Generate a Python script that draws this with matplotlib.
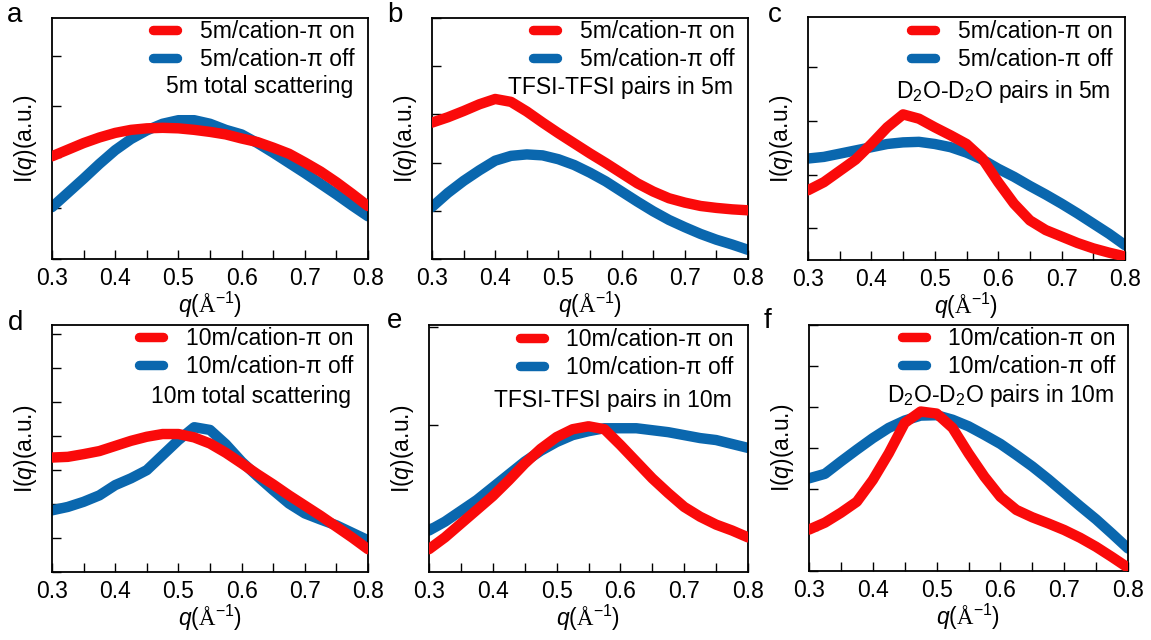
import matplotlib
matplotlib.use("Agg")
import matplotlib.pyplot as plt
from matplotlib.ticker import MultipleLocator, FixedLocator, NullFormatter

plt.rcParams["font.family"] = ["Liberation Sans", "DejaVu Sans"]
plt.rcParams["mathtext.fontset"] = "custom"
plt.rcParams["mathtext.rm"] = "Liberation Serif"
plt.rcParams["mathtext.it"] = "Liberation Sans:italic"
plt.rcParams["mathtext.sf"] = "Liberation Sans"
plt.rcParams["mathtext.default"] = "regular"

# scattering vector q (1/Angstrom)
q = [0.300, 0.325, 0.350, 0.375, 0.400, 0.425, 0.450, 0.475, 0.500, 0.525, 0.550,
     0.575, 0.600, 0.625, 0.650, 0.675, 0.700, 0.725, 0.750, 0.775, 0.800]

# (a) 5m total scattering
a_on = [2.02, 2.15, 2.28, 2.39, 2.48, 2.54, 2.57, 2.58, 2.57, 2.54, 2.50,
        2.45, 2.37, 2.30, 2.19, 2.07, 1.90, 1.72, 1.51, 1.28, 1.04]
a_off = [1.02, 1.30, 1.58, 1.87, 2.14, 2.36, 2.53, 2.66, 2.73, 2.73, 2.66,
         2.54, 2.45, 2.28, 2.09, 1.89, 1.69, 1.48, 1.27, 1.05, 0.84]

# (b) TFSI-TFSI pairs in 5m
b_on = [2.83, 2.94, 3.07, 3.21, 3.32, 3.26, 3.06, 2.83, 2.61, 2.40, 2.19,
        1.99, 1.78, 1.57, 1.40, 1.26, 1.17, 1.10, 1.06, 1.03, 1.01]
b_off = [1.08, 1.37, 1.62, 1.84, 2.04, 2.14, 2.17, 2.15, 2.07, 1.95, 1.79,
         1.61, 1.40, 1.19, 0.99, 0.81, 0.66, 0.52, 0.40, 0.30, 0.19]

# (c) D2O-D2O pairs in 5m
c_on = [1.71, 1.86, 2.07, 2.28, 2.57, 2.88, 3.12, 3.04, 2.88, 2.73, 2.57,
        2.30, 1.86, 1.46, 1.15, 0.97, 0.85, 0.73, 0.63, 0.55, 0.48]
c_off = [2.30, 2.33, 2.39, 2.45, 2.51, 2.57, 2.60, 2.61, 2.57, 2.51, 2.41,
         2.28, 2.11, 1.96, 1.79, 1.63, 1.46, 1.28, 1.09, 0.90, 0.69]

# (d) 10m total scattering
d_on = [3.36, 3.38, 3.46, 3.55, 3.70, 3.85, 3.97, 4.05, 4.05, 3.95, 3.77,
        3.50, 3.19, 2.87, 2.57, 2.25, 1.95, 1.65, 1.33, 1.01, 0.67]
d_off = [1.81, 1.91, 2.06, 2.25, 2.55, 2.75, 2.99, 3.43, 3.87, 4.25, 4.17,
         3.75, 3.24, 2.81, 2.40, 2.01, 1.72, 1.54, 1.37, 1.15, 0.93]

# (e) TFSI-TFSI pairs in 10m
e_on = [0.74, 0.86, 1.00, 1.14, 1.28, 1.44, 1.61, 1.76, 1.88, 1.96, 1.99,
        1.96, 1.80, 1.63, 1.46, 1.31, 1.17, 1.07, 0.99, 0.93, 0.86]
e_off = [0.93, 1.02, 1.13, 1.24, 1.37, 1.50, 1.63, 1.74, 1.83, 1.90, 1.94,
         1.97, 1.97, 1.97, 1.95, 1.93, 1.90, 1.87, 1.85, 1.81, 1.77]

# (f) D2O-D2O pairs in 10m
f_on = [1.01, 1.18, 1.42, 1.69, 2.22, 2.87, 3.61, 3.89, 3.84, 3.49, 2.87,
        2.30, 1.81, 1.49, 1.31, 1.16, 1.00, 0.81, 0.59, 0.34, 0.08]
f_off = [2.26, 2.37, 2.67, 2.96, 3.24, 3.49, 3.67, 3.79, 3.80, 3.69, 3.53,
         3.32, 3.10, 2.83, 2.55, 2.24, 1.91, 1.58, 1.26, 0.91, 0.55]

letters = ["a", "b", "c", "d", "e", "f"]
on_labels = ["5m/cation-π on"] * 3 + ["10m/cation-π on"] * 3
off_labels = ["5m/cation-π off"] * 3 + ["10m/cation-π off"] * 3
subtitles = ["5m total scattering", "TFSI-TFSI pairs in 5m",
             r"D$_2$O-D$_2$O pairs in 5m",
             "10m total scattering", "TFSI-TFSI pairs in 10m",
             r"D$_2$O-D$_2$O pairs in 10m"]
series_on = [a_on, b_on, c_on, d_on, e_on, f_on]
series_off = [a_off, b_off, c_off, d_off, e_off, f_off]
ylims = [(0, 4.74), (0, 5.0), (0.414, 4.93), (0, 7.25), (0.508, 3.02), (0, 6.0)]

W, H = 1151, 640
# axes boxes in pixels: left, top, right, bottom
boxes = [(52, 18, 368, 259), (432, 18, 748, 259), (808, 17, 1125, 260),
         (52, 325, 368, 572), (429, 325, 748, 572), (809, 325, 1128, 571)]
letter_pos = [(7, 22), (387, 22), (768, 22), (8, 330), (387, 328), (764, 328)]
legend_right = [355, 735, 1113, 353, 734, 1116]
legend_top = [20, 20, 20, 327, 328, 327]
sub_base = [93, 94, 98, 403, 407, 402]

RED = "#FA0A0A"
BLUE = "#0A67AE"

fig = plt.figure(figsize=(W / 100, H / 100), dpi=100)

for i in range(6):
    l, t, r, b = boxes[i]
    ax = fig.add_axes([l / W, (H - b) / H, (r - l) / W, (b - t) / H])
    ax.plot(q, series_off[i], color=BLUE, lw=7.5, solid_capstyle="round",
            solid_joinstyle="round", label=off_labels[i], zorder=2)
    ax.plot(q, series_on[i], color=RED, lw=7.5, solid_capstyle="round",
            solid_joinstyle="round", label=on_labels[i], zorder=3)
    ax.set_xlim(0.3, 0.8)
    ax.set_ylim(*ylims[i])

    ax.xaxis.set_major_locator(FixedLocator([0.3, 0.4, 0.5, 0.6, 0.7, 0.8]))
    ax.xaxis.set_minor_locator(FixedLocator([0.35, 0.45, 0.55, 0.65, 0.75]))
    ax.yaxis.set_major_locator(MultipleLocator(1))
    ax.yaxis.set_major_formatter(NullFormatter())
    ax.set_xticklabels(["0.3", "0.4", "0.5", "0.6", "0.7", "0.8"])
    ax.tick_params(axis="both", which="both", direction="in", length=6.5,
                   width=1.0, top=False, right=False, labelsize=16.5, pad=6)
    for s in ax.spines.values():
        s.set_linewidth(1.3)

    ax.set_xlabel(r"$\mathit{q}$($\mathrm{Å}^{-1}$)", fontsize=16.5)
    ax.xaxis.set_label_coords(0.5, -30 / (b - t) - 0.005)
    ax.set_ylabel(r"I($\mathit{q}$)(a.u.)", fontsize=16.5)
    ax.yaxis.set_label_coords(-13 / (r - l), 0.5)

    handles, labels = ax.get_legend_handles_labels()
    leg = ax.legend(handles[::-1], labels[::-1], loc="upper right",
                    bbox_to_anchor=((legend_right[i] - l) / (r - l),
                                    1 - (legend_top[i] - t) / (b - t)),
                    frameon=False, fontsize=16.5, borderpad=0, borderaxespad=0,
                    handlelength=1.05, handletextpad=1.0, labelspacing=0.2)
    for h in leg.get_lines():
        h.set_linewidth(6.8)
        h.set_solid_capstyle("round")

    ax.text((legend_right[i] - 2 - l) / (r - l), 1 - (sub_base[i] - t) / (b - t),
            subtitles[i], transform=ax.transAxes, ha="right", va="baseline",
            fontsize=16.5)

    fig.text(letter_pos[i][0] / W, 1 - letter_pos[i][1] / H, letters[i],
             ha="left", va="baseline", fontsize=20)

fig.savefig("out.png", dpi=100)
